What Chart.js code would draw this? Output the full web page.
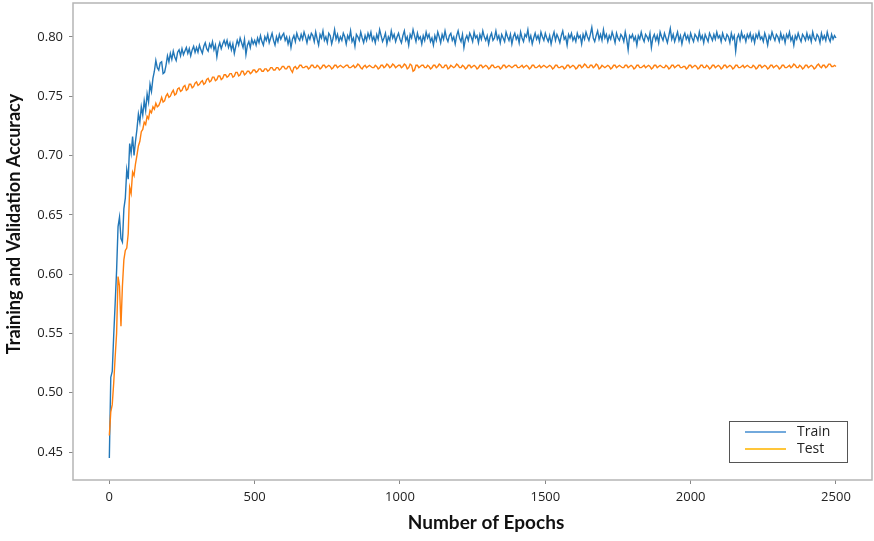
<!DOCTYPE html>
<html><head><meta charset="utf-8">
<script src="https://cdn.jsdelivr.net/npm/chart.js@4.4.1/dist/chart.umd.min.js"></script>
<style>html,body{margin:0;padding:0;background:#fff;overflow:hidden}canvas{display:block}</style>
</head><body>
<canvas id="c" width="874" height="541"></canvas>
<script>
const epochs = [
0,5,10,15,20,25,30,35,40,45,50,55,60,65,70,75,80,85,90,95,
100,105,110,115,120,125,130,135,140,145,150,155,160,165,170,175,180,185,190,195,
200,205,210,215,220,225,230,235,240,245,250,255,260,265,270,275,280,285,290,295,
300,305,310,315,320,325,330,335,340,345,350,355,360,365,370,375,380,385,390,395,
400,405,410,415,420,425,430,435,440,445,450,455,460,465,470,475,480,485,490,495,
500,505,510,515,520,525,530,535,540,545,550,555,560,565,570,575,580,585,590,595,
600,605,610,615,620,625,630,635,640,645,650,655,660,665,670,675,680,685,690,695,
700,705,710,715,720,725,730,735,740,745,750,755,760,765,770,775,780,785,790,795,
800,805,810,815,820,825,830,835,840,845,850,855,860,865,870,875,880,885,890,895,
900,905,910,915,920,925,930,935,940,945,950,955,960,965,970,975,980,985,990,995,
1000,1005,1010,1015,1020,1025,1030,1035,1040,1045,1050,1055,1060,1065,1070,1075,1080,1085,1090,1095,
1100,1105,1110,1115,1120,1125,1130,1135,1140,1145,1150,1155,1160,1165,1170,1175,1180,1185,1190,1195,
1200,1205,1210,1215,1220,1225,1230,1235,1240,1245,1250,1255,1260,1265,1270,1275,1280,1285,1290,1295,
1300,1305,1310,1315,1320,1325,1330,1335,1340,1345,1350,1355,1360,1365,1370,1375,1380,1385,1390,1395,
1400,1405,1410,1415,1420,1425,1430,1435,1440,1445,1450,1455,1460,1465,1470,1475,1480,1485,1490,1495,
1500,1505,1510,1515,1520,1525,1530,1535,1540,1545,1550,1555,1560,1565,1570,1575,1580,1585,1590,1595,
1600,1605,1610,1615,1620,1625,1630,1635,1640,1645,1650,1655,1660,1665,1670,1675,1680,1685,1690,1695,
1700,1705,1710,1715,1720,1725,1730,1735,1740,1745,1750,1755,1760,1765,1770,1775,1780,1785,1790,1795,
1800,1805,1810,1815,1820,1825,1830,1835,1840,1845,1850,1855,1860,1865,1870,1875,1880,1885,1890,1895,
1900,1905,1910,1915,1920,1925,1930,1935,1940,1945,1950,1955,1960,1965,1970,1975,1980,1985,1990,1995,
2000,2005,2010,2015,2020,2025,2030,2035,2040,2045,2050,2055,2060,2065,2070,2075,2080,2085,2090,2095,
2100,2105,2110,2115,2120,2125,2130,2135,2140,2145,2150,2155,2160,2165,2170,2175,2180,2185,2190,2195,
2200,2205,2210,2215,2220,2225,2230,2235,2240,2245,2250,2255,2260,2265,2270,2275,2280,2285,2290,2295,
2300,2305,2310,2315,2320,2325,2330,2335,2340,2345,2350,2355,2360,2365,2370,2375,2380,2385,2390,2395,
2400,2405,2410,2415,2420,2425,2430,2435,2440,2445,2450,2455,2460,2465,2470,2475,2480,2485,2490,2495,
2500];

const trainAcc = [
0.445,0.513,0.518,0.548,0.575,0.603,0.640,0.648,0.630,0.627,0.655,0.664,0.688,0.680,0.710,0.702,0.716,0.700,0.712,0.722,
0.735,0.728,0.741,0.734,0.746,0.738,0.752,0.745,0.760,0.754,0.765,0.771,0.780,0.774,0.772,0.778,0.779,0.769,0.770,0.776,
0.784,0.779,0.786,0.781,0.788,0.783,0.780,0.787,0.789,0.784,0.790,0.785,0.788,0.791,0.786,0.790,0.784,0.789,0.792,0.787,
0.791,0.787,0.793,0.789,0.786,0.792,0.795,0.790,0.788,0.794,0.791,0.796,0.789,0.793,0.783,0.791,0.795,0.790,0.794,0.797,
0.793,0.797,0.791,0.795,0.789,0.794,0.786,0.792,0.797,0.793,0.799,0.795,0.791,0.798,0.785,0.793,0.796,0.791,0.798,0.794,
0.797,0.793,0.799,0.795,0.801,0.796,0.793,0.800,0.797,0.802,0.795,0.799,0.803,0.797,0.793,0.800,0.796,0.802,0.798,0.801,
0.803,0.797,0.800,0.794,0.799,0.791,0.798,0.801,0.796,0.803,0.799,0.797,0.802,0.798,0.804,0.800,0.795,0.801,0.798,0.803,
0.801,0.796,0.804,0.798,0.793,0.802,0.799,0.805,0.797,0.800,0.795,0.803,0.801,0.794,0.799,0.806,0.798,0.802,0.796,0.800,
0.797,0.803,0.800,0.794,0.801,0.798,0.805,0.796,0.799,0.792,0.802,0.800,0.797,0.804,0.799,0.795,0.801,0.797,0.803,0.799,
0.804,0.797,0.800,0.795,0.802,0.798,0.806,0.801,0.796,0.799,0.803,0.794,0.800,0.797,0.805,0.799,0.802,0.796,0.800,0.803,
0.798,0.795,0.801,0.805,0.797,0.800,0.793,0.802,0.799,0.806,0.801,0.796,0.803,0.798,0.800,0.794,0.801,0.797,0.804,0.799,
0.802,0.796,0.799,0.793,0.801,0.797,0.804,0.800,0.795,0.802,0.798,0.805,0.799,0.796,0.801,0.803,0.797,0.800,0.794,0.801,
0.805,0.799,0.796,0.802,0.791,0.798,0.801,0.797,0.803,0.800,0.796,0.804,0.799,0.801,0.795,0.802,0.798,0.805,0.800,0.797,
0.801,0.794,0.800,0.803,0.797,0.799,0.805,0.798,0.801,0.795,0.802,0.799,0.796,0.804,0.800,0.797,0.802,0.794,0.800,0.803,
0.798,0.801,0.795,0.804,0.799,0.796,0.802,0.800,0.806,0.797,0.801,0.794,0.799,0.803,0.798,0.801,0.796,0.804,0.800,0.797,
0.803,0.799,0.796,0.801,0.794,0.800,0.804,0.797,0.802,0.799,0.795,0.801,0.805,0.798,0.800,0.793,0.802,0.799,0.803,0.797,
0.800,0.796,0.803,0.799,0.801,0.794,0.802,0.798,0.804,0.800,0.797,0.802,0.808,0.799,0.796,0.801,0.805,0.798,0.802,0.797,
0.806,0.799,0.802,0.796,0.801,0.798,0.804,0.800,0.795,0.803,0.799,0.797,0.802,0.800,0.796,0.804,0.798,0.789,0.801,0.799,
0.802,0.797,0.800,0.793,0.801,0.798,0.804,0.799,0.796,0.802,0.800,0.797,0.803,0.791,0.799,0.802,0.797,0.801,0.795,0.804,
0.800,0.797,0.803,0.799,0.795,0.801,0.807,0.798,0.802,0.796,0.800,0.804,0.797,0.801,0.794,0.800,0.803,0.798,0.801,0.796,
0.803,0.799,0.796,0.802,0.800,0.797,0.804,0.798,0.801,0.795,0.802,0.799,0.796,0.803,0.800,0.797,0.802,0.798,0.804,0.799,
0.801,0.796,0.803,0.799,0.797,0.802,0.800,0.795,0.803,0.798,0.801,0.788,0.799,0.802,0.797,0.804,0.799,0.801,0.796,0.802,
0.799,0.803,0.797,0.801,0.795,0.802,0.799,0.804,0.798,0.800,0.796,0.803,0.799,0.793,0.801,0.798,0.804,0.800,0.797,0.802,
0.800,0.796,0.803,0.798,0.801,0.795,0.802,0.799,0.804,0.797,0.800,0.793,0.801,0.798,0.803,0.799,0.796,0.802,0.800,0.797,
0.803,0.798,0.801,0.796,0.804,0.799,0.797,0.802,0.800,0.795,0.803,0.798,0.801,0.797,0.804,0.799,0.796,0.802,0.798,0.801,
0.799];

const testAcc = [
0.464,0.484,0.490,0.508,0.530,0.550,0.598,0.590,0.556,0.590,0.612,0.620,0.622,0.634,0.673,0.668,0.686,0.683,0.693,0.700,
0.708,0.712,0.720,0.722,0.728,0.726,0.733,0.731,0.738,0.736,0.741,0.739,0.744,0.741,0.742,0.745,0.749,0.745,0.746,0.750,
0.752,0.749,0.750,0.753,0.755,0.751,0.752,0.756,0.757,0.754,0.755,0.758,0.759,0.755,0.756,0.760,0.760,0.757,0.758,0.761,
0.762,0.759,0.760,0.762,0.763,0.760,0.761,0.764,0.765,0.762,0.763,0.766,0.766,0.763,0.764,0.767,0.767,0.764,0.765,0.768,
0.768,0.766,0.767,0.769,0.769,0.766,0.767,0.770,0.770,0.767,0.768,0.771,0.771,0.768,0.769,0.771,0.771,0.769,0.770,0.772,
0.772,0.770,0.771,0.773,0.773,0.771,0.771,0.773,0.773,0.771,0.772,0.774,0.774,0.772,0.772,0.774,0.774,0.772,0.773,0.775,
0.775,0.773,0.773,0.775,0.775,0.772,0.770,0.774,0.775,0.773,0.774,0.776,0.776,0.774,0.774,0.775,0.775,0.773,0.774,0.776,
0.776,0.774,0.774,0.776,0.775,0.773,0.774,0.776,0.776,0.774,0.775,0.776,0.775,0.773,0.774,0.776,0.776,0.774,0.775,0.776,
0.775,0.774,0.775,0.776,0.776,0.774,0.774,0.775,0.776,0.774,0.775,0.777,0.776,0.774,0.773,0.775,0.776,0.774,0.775,0.776,
0.775,0.774,0.774,0.776,0.775,0.773,0.774,0.776,0.776,0.774,0.775,0.777,0.776,0.774,0.775,0.777,0.776,0.774,0.775,0.776,
0.776,0.774,0.775,0.777,0.776,0.773,0.774,0.777,0.776,0.771,0.772,0.776,0.776,0.774,0.775,0.776,0.776,0.774,0.774,0.776,
0.775,0.773,0.774,0.776,0.776,0.774,0.775,0.777,0.776,0.774,0.774,0.776,0.776,0.773,0.774,0.776,0.775,0.774,0.775,0.777,
0.776,0.774,0.774,0.776,0.775,0.773,0.774,0.776,0.776,0.774,0.775,0.776,0.775,0.773,0.774,0.776,0.776,0.774,0.775,0.776,
0.775,0.773,0.774,0.776,0.776,0.774,0.774,0.775,0.775,0.773,0.774,0.776,0.776,0.774,0.775,0.776,0.775,0.774,0.775,0.776,
0.776,0.774,0.774,0.775,0.776,0.774,0.775,0.776,0.775,0.773,0.774,0.776,0.776,0.774,0.774,0.775,0.776,0.774,0.775,0.776,
0.775,0.774,0.775,0.776,0.775,0.773,0.774,0.776,0.776,0.774,0.774,0.775,0.775,0.773,0.774,0.776,0.776,0.774,0.775,0.776,
0.775,0.773,0.774,0.776,0.776,0.774,0.775,0.777,0.776,0.774,0.774,0.776,0.776,0.774,0.775,0.777,0.776,0.773,0.774,0.776,
0.775,0.774,0.775,0.776,0.775,0.773,0.774,0.776,0.776,0.774,0.775,0.776,0.775,0.774,0.774,0.776,0.776,0.774,0.775,0.776,
0.775,0.773,0.774,0.776,0.776,0.774,0.774,0.775,0.776,0.774,0.775,0.776,0.775,0.773,0.774,0.776,0.776,0.774,0.775,0.776,
0.775,0.774,0.774,0.776,0.775,0.773,0.774,0.776,0.776,0.774,0.775,0.776,0.776,0.774,0.774,0.775,0.775,0.773,0.774,0.776,
0.776,0.774,0.775,0.776,0.775,0.773,0.774,0.776,0.776,0.774,0.774,0.776,0.775,0.773,0.774,0.776,0.776,0.774,0.775,0.776,
0.775,0.773,0.774,0.776,0.776,0.774,0.775,0.776,0.775,0.773,0.774,0.776,0.776,0.774,0.774,0.775,0.776,0.774,0.775,0.776,
0.775,0.774,0.774,0.776,0.775,0.773,0.774,0.776,0.776,0.774,0.775,0.776,0.775,0.773,0.774,0.776,0.776,0.774,0.775,0.776,
0.775,0.773,0.774,0.776,0.776,0.774,0.774,0.775,0.776,0.774,0.775,0.777,0.776,0.774,0.774,0.776,0.775,0.773,0.774,0.776,
0.776,0.774,0.775,0.776,0.775,0.773,0.774,0.776,0.777,0.775,0.774,0.776,0.776,0.774,0.775,0.777,0.777,0.775,0.775,0.776,
0.775];

const seriesNames = ['Train', 'Test'];
const xTicks = [0, 500, 1000, 1500, 2000, 2500];
const yTicks = [0.45, 0.50, 0.55, 0.60, 0.65, 0.70, 0.75, 0.80];
const xTitle = 'Number of Epochs';
const yTitle = 'Training and Validation Accuracy';

const toPts = arr => epochs.map((e, i) => ({x: e, y: arr[i]}));

const framePlugin = {
  id: 'frame',
  afterDraw(chart) {
    const {ctx, chartArea: a} = chart;
    ctx.save();
    ctx.strokeStyle = '#b5b5b5';
    ctx.lineWidth = 1.5;
    ctx.strokeRect(a.left, a.top, a.right - a.left, a.bottom - a.top);
    ctx.fillStyle = '#111';
    ctx.textAlign = 'center';
    ctx.textBaseline = 'middle';
    ctx.font = 'bold 19px Lato';
    ctx.fillText(xTitle, 486, 523);
    ctx.translate(14, 224);
    ctx.rotate(-Math.PI / 2);
    ctx.font = 'bold 18px Lato';
    ctx.fillText(yTitle, 0, 0);
    ctx.restore();
    ctx.save();
    const bx = 729.5, by = 421.5, bw = 118, bh = 41;
    ctx.fillStyle = '#fff';
    ctx.fillRect(bx, by, bw, bh);
    ctx.strokeStyle = '#555';
    ctx.lineWidth = 1;
    ctx.strokeRect(bx, by, bw, bh);
    const legendColors = ['#72a9dc', '#ffc63a'];
    const rows = [432, 449];
    ctx.font = '14px "Open Sans"';
    ctx.textAlign = 'left';
    ctx.textBaseline = 'middle';
    chart.data.datasets.forEach((ds, i) => {
      ctx.strokeStyle = legendColors[i];
      ctx.lineWidth = 2;
      ctx.beginPath();
      ctx.moveTo(745, rows[i]);
      ctx.lineTo(786, rows[i]);
      ctx.stroke();
      ctx.fillStyle = '#222';
      ctx.fillText(ds.label, 797, rows[i]);
    });
    ctx.restore();
  }
};

new Chart(document.getElementById('c'), {
  type: 'line',
  data: {
    datasets: [
      {label: seriesNames[0], data: toPts(trainAcc), borderColor: '#2277b8', borderWidth: 1.4, pointRadius: 0, tension: 0, fill: false, order: 2},
      {label: seriesNames[1], data: toPts(testAcc), borderColor: '#ff7f0e', borderWidth: 1.4, pointRadius: 0, tension: 0, fill: false, order: 1}
    ]
  },
  options: {
    responsive: false,
    animation: false,
    events: [],
    layout: {padding: {left: 0, top: 3, right: 2, bottom: 0}},
    plugins: {legend: {display: false}, tooltip: {enabled: false}},
    scales: {
      x: {
        type: 'linear', min: -125, max: 2624,
        afterBuildTicks: s => { s.ticks = xTicks.map(v => ({value: v})); },
        afterFit: s => { s.height = 61; s.paddingLeft = 0; s.paddingRight = 0; },
        ticks: {autoSkip: false, maxRotation: 0, padding: 5, color: '#222', font: {family: 'Open Sans', size: 13}, callback: v => String(v)},
        grid: {display: true, drawOnChartArea: false, tickLength: 4, color: '#888'},
        border: {display: false}
      },
      y: {
        type: 'linear', min: 0.4265, max: 0.8285,
        afterBuildTicks: s => { s.ticks = yTicks.map(v => ({value: v})); },
        afterFit: s => { s.width = 73; s.paddingTop = 0; s.paddingBottom = 0; },
        ticks: {autoSkip: false, padding: 6, color: '#222', font: {family: 'Open Sans', size: 13}, callback: v => v.toFixed(2)},
        grid: {display: true, drawOnChartArea: false, tickLength: 4, color: '#888'},
        border: {display: false}
      }
    }
  },
  plugins: [framePlugin]
});
</script>
</body></html>
